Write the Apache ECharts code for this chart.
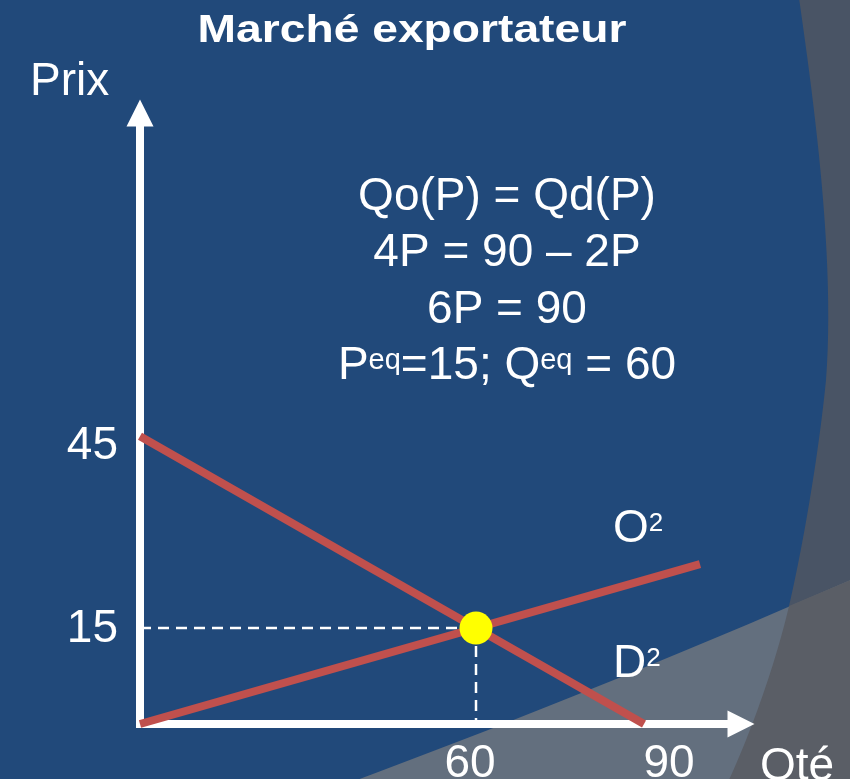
<!DOCTYPE html>
<html>
<head>
<meta charset="utf-8">
<title>Marché exportateur</title>
<script src="https://cdn.jsdelivr.net/npm/echarts@6/dist/echarts.min.js"></script>
<style>
  html, body { margin: 0; padding: 0; background: #21497A; }
  #chart { width: 850px; height: 779px; }
</style>
</head>
<body>
<div id="chart"></div>
<script>
// Demand and supply curves as [quantity, price] points
const demandCurve = [[0, 45], [90, 0]];
const supplyCurve = [[0, 0], [100, 25]];
// Equilibrium point [quantity, price]
const equilibrium = [60, 15];
// Labelled ticks on each axis
const priceTicks = [15, 45];
const qtyTicks = [60, 90];
// Text blocks
const titleText = 'Marché exportateur';
const equationLines = ['Qo(P) = Qd(P)', '4P = 90 – 2P', '6P = 90', 'P{sup|eq}=15; Q{sup|eq} = 60'];
const supplyName = 'O';
const demandName = 'D';
const curveIndex = '2';
const priceAxisName = 'Prix';
const qtyAxisName = 'Qté';

const FONT = "'Liberation Sans', Arial, Helvetica, sans-serif";
const WHITE = '#FFFFFF';
const RED = '#C0504D';

// Turn a list of outline segments (straight or Bezier) into polygon points
function outline(start, segments) {
  const pts = [start.slice()];
  let cur = start;
  segments.forEach(seg => {
    if (seg.length === 1) {
      pts.push(seg[0].slice());
      cur = seg[0];
      return;
    }
    const steps = 24;
    for (let i = 1; i <= steps; i++) {
      const t = i / steps, u = 1 - t;
      let x, y;
      if (seg.length === 2) {
        x = u * u * cur[0] + 2 * u * t * seg[0][0] + t * t * seg[1][0];
        y = u * u * cur[1] + 2 * u * t * seg[0][1] + t * t * seg[1][1];
      } else {
        x = u * u * u * cur[0] + 3 * u * u * t * seg[0][0] + 3 * u * t * t * seg[1][0] + t * t * t * seg[2][0];
        y = u * u * u * cur[1] + 3 * u * u * t * seg[0][1] + 3 * u * t * t * seg[1][1] + t * t * t * seg[2][1];
      }
      pts.push([x, y]);
    }
    cur = seg[seg.length - 1];
  });
  return pts;
}

const rightBand = outline([799, -2], [
  [[815, 110], [835, 260], [826, 380]],
  [[818, 460], [802, 550], [789, 606]],
  [[776, 662], [752, 730], [728, 782]],
  [[860, 782]], [[860, -2]]
]);
const lowerBand = outline([330, 790], [
  [[600, 690], [855, 578]],
  [[860, 578]], [[860, 790]]
]);
const cornerBand = outline([789, 606], [
  [[776, 662], [752, 730], [728, 782]],
  [[860, 782]], [[860, 576]]
]);

const chart = echarts.init(document.getElementById('chart'), null, { renderer: 'canvas' });

const guideStyle = { color: WHITE, width: 2.5, type: [11, 7] };

const option = {
  backgroundColor: '#21497A',
  animation: false,
  grid: { left: 140, top: 126, width: 588, height: 598, containLabel: false, outerBoundsMode: 'none' },
  xAxis: {
    type: 'value', min: 0, max: 105, interval: 15,
    splitLine: { show: false }, axisTick: { show: false },
    axisLine: {
      onZero: false,
      lineStyle: { color: WHITE, width: 8, cap: 'square' },
      symbol: ['none', 'triangle'], symbolSize: [27, 27], symbolOffset: [0, 13]
    },
    axisLabel: {
      color: WHITE, fontSize: 46, fontFamily: FONT, margin: 17,
      formatter: v => qtyTicks.indexOf(v) >= 0 ? '{q' + v + '|' + v + '}' : '',
      rich: {
        q60: { fontSize: 46, fontFamily: FONT, color: WHITE, padding: [0, 12, 0, 0] },
        q90: { fontSize: 46, fontFamily: FONT, color: WHITE, padding: [0, 0, 0, 50] }
      }
    }
  },
  yAxis: {
    type: 'value', min: 0, max: 93.5, interval: 15,
    splitLine: { show: false }, axisTick: { show: false },
    axisLine: {
      onZero: false,
      lineStyle: { color: WHITE, width: 8, cap: 'square' },
      symbol: ['none', 'triangle'], symbolSize: [27, 27], symbolOffset: [0, 13]
    },
    axisLabel: {
      color: WHITE, fontSize: 46, fontFamily: FONT, margin: 22,
      showMaxLabel: false,
      formatter: v => priceTicks.indexOf(v) >= 0 ? '{p' + v + '|' + v + '}' : '',
      rich: {
        p15: { fontSize: 46, fontFamily: FONT, color: WHITE, padding: [3, 0, 0, 0] },
        p45: { fontSize: 46, fontFamily: FONT, color: WHITE, padding: [20, 0, 0, 0] }
      }
    }
  },
  series: [
    {
      name: 'guide-price', type: 'line', symbol: 'none', silent: true, z: 2,
      data: [[0, equilibrium[1]], equilibrium], lineStyle: guideStyle
    },
    {
      name: 'guide-qty', type: 'line', symbol: 'none', silent: true, z: 2,
      data: [equilibrium, [equilibrium[0], 0]], lineStyle: guideStyle
    },
    {
      name: 'D', type: 'line', symbol: 'none', silent: true, z: 3,
      data: demandCurve, lineStyle: { color: RED, width: 8, cap: 'butt' }
    },
    {
      name: 'O', type: 'line', symbol: 'none', silent: true, z: 3,
      data: supplyCurve, lineStyle: { color: RED, width: 8, cap: 'butt' }
    },
    {
      name: 'equilibre', type: 'scatter', silent: true, z: 4,
      data: [equilibrium], symbolSize: 33,
      itemStyle: { color: '#FFFF00', opacity: 1 }
    }
  ],
  graphic: [
    // slide decoration bands
    { type: 'polygon', z: -10, silent: true, shape: { points: rightBand }, style: { fill: '#495465' } },
    { type: 'polygon', z: -9, silent: true, shape: { points: lowerBand }, style: { fill: '#636F7E' } },
    { type: 'polygon', z: -8, silent: true, shape: { points: cornerBand }, style: { fill: '#5A5E66' } },
    // title
    {
      type: 'text', x: 412, y: 31, scaleX: 1.2, z: 10, silent: true,
      style: {
        text: titleText, x: 0, y: 0, align: 'center', verticalAlign: 'middle',
        font: 'bold 38.5px ' + FONT, fill: WHITE
      }
    },
    // axis names
    {
      type: 'text', x: 30, y: 82, z: 10, silent: true,
      style: { text: priceAxisName, align: 'left', verticalAlign: 'middle', font: '46px ' + FONT, fill: WHITE }
    },
    {
      type: 'text', x: 760, y: 767, z: 10, silent: true,
      style: { text: qtyAxisName, align: 'left', verticalAlign: 'middle', font: '46px ' + FONT, fill: WHITE }
    },
    // equilibrium computation
    {
      type: 'text', x: 507, y: 282, z: 10, silent: true,
      style: {
        text: equationLines.join('\n'), align: 'center', verticalAlign: 'middle',
        font: '46px ' + FONT, fill: WHITE, lineHeight: 56.5,
        rich: { sup: { fontSize: 29, fontFamily: FONT, fill: WHITE, verticalAlign: 'top', padding: [8, 0, 0, 0] } }
      }
    },
    // curve names
    {
      type: 'text', x: 613, y: 506, z: 10, silent: true,
      style: {
        text: supplyName + '{sup|' + curveIndex + '}', align: 'left', verticalAlign: 'top',
        font: '46px ' + FONT, fill: WHITE, lineHeight: 46,
        rich: { sup: { fontSize: 26, fontFamily: FONT, fill: WHITE, verticalAlign: 'top', padding: [5, 0, 0, 0] } }
      }
    },
    {
      type: 'text', x: 613, y: 641, z: 10, silent: true,
      style: {
        text: demandName + '{sup|' + curveIndex + '}', align: 'left', verticalAlign: 'top',
        font: '46px ' + FONT, fill: WHITE, lineHeight: 46,
        rich: { sup: { fontSize: 26, fontFamily: FONT, fill: WHITE, verticalAlign: 'top', padding: [5, 0, 0, 0] } }
      }
    }
  ]
};

chart.setOption(option);
</script>
</body>
</html>
